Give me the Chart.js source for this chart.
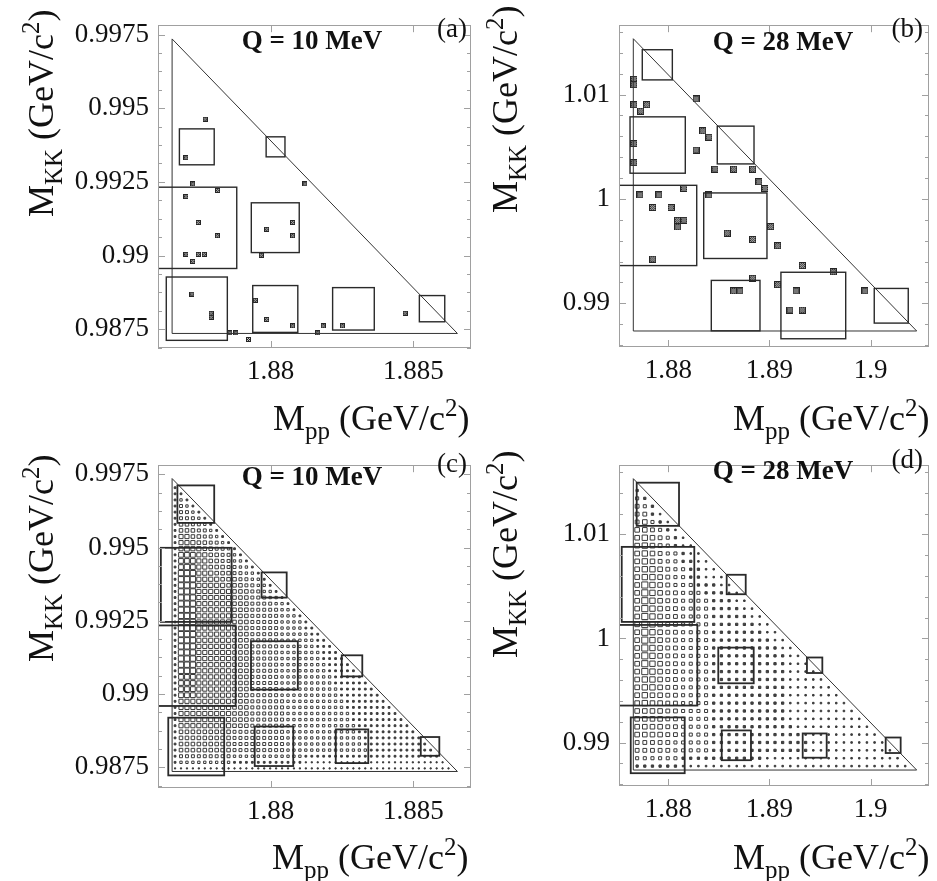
<!DOCTYPE html>
<html>
<head>
<meta charset="utf-8">
<script src="https://cdn.jsdelivr.net/npm/chart.js@4.4.0/dist/chart.umd.min.js"></script>
<style>
  body { margin: 0; background: #fff; }
  #wrap { position: relative; width: 937px; height: 881px; overflow: hidden; }
  canvas { position: absolute; }
</style>
</head>
<body>
<div id="wrap">
  <canvas id="pa" width="480" height="450" style="left:0;top:0"></canvas>
  <canvas id="pb" width="457" height="450" style="left:480px;top:0"></canvas>
  <canvas id="pc" width="480" height="441" style="left:0;top:440px"></canvas>
  <canvas id="pd" width="457" height="441" style="left:480px;top:440px"></canvas>
</div>
<script>
// ---- data ----

// Dalitz boundaries (M_pp, M_KK) for Q = 10 and 28 MeV
const triX10 = [1.876544, 1.876544, 1.886544, 1.876544];
const triY10 = [0.987354, 0.997354, 0.987354, 0.987354];
const triX28 = [1.876544, 1.876544, 1.904544, 1.876544];
const triY28 = [0.987354, 1.015354, 0.987354, 0.987354];

// tick labels
const xTicks10 = [1.88, 1.885];
const yTicks10 = [0.9875, 0.99, 0.9925, 0.995, 0.9975];
const xTicks28 = [1.88, 1.89, 1.9];
const yTicks28 = [0.99, 1, 1.01];

// events, panel (a)
const evXa = [1.87770, 1.87703, 1.87727, 1.87814, 1.87703, 1.88120, 1.87746, 1.87813, 1.87703, 1.87746,
              1.87767, 1.87727, 1.87986, 1.88077, 1.88077, 1.87967, 1.87724, 1.87791, 1.87857, 1.87878,
              1.87922, 1.87946, 1.87986, 1.88077, 1.88165, 1.88184, 1.88251, 1.88471, 1.87791];
const evYa = [0.99463, 0.99332, 0.99243, 0.99221, 0.99200, 0.99243, 0.99112, 0.99067, 0.99004, 0.99004,
              0.99004, 0.98980, 0.99089, 0.99112, 0.99067, 0.99001, 0.98869, 0.98804, 0.98737, 0.98737,
              0.98715, 0.98848, 0.98783, 0.98761, 0.98737, 0.98761, 0.98761, 0.98804, 0.98790];

// events, panel (b)
const evXb = [1.87661, 1.87661, 1.87661, 1.87787, 1.87727, 1.88274, 1.88340, 1.88402, 1.88274, 1.87661,
              1.87661, 1.88461, 1.88646, 1.88834, 1.88896, 1.88955, 1.88155, 1.87720, 1.87908, 1.87846,
              1.88027, 1.88093, 1.88155, 1.88093, 1.88402, 1.89012, 1.88583, 1.88834, 1.89081, 1.87846,
              1.89324, 1.89630, 1.88834, 1.89081, 1.88646, 1.88708, 1.89262, 1.89943, 1.89202, 1.89324];
const evYb = [1.01146, 1.01095, 1.00903, 1.00903, 1.00842, 1.00958, 1.00652, 1.00592, 1.00469, 1.00531,
              1.00348, 1.00286, 1.00286, 1.00286, 1.00165, 1.00101, 1.00101, 1.00039, 1.00039, 0.99918,
              0.99918, 0.99796, 0.99796, 0.99732, 1.00039, 0.99735, 0.99673, 0.99613, 0.99552, 0.99424,
              0.99362, 0.99302, 0.99241, 0.99179, 0.99119, 0.99119, 0.99119, 0.99119, 0.98936, 0.98936];

// big boxes [xLow, xHigh, yLow, yHigh]
const boxesA = [
  [1.87680, 1.87802, 0.99308, 0.99430], [1.87984, 1.88050, 0.99335, 0.99403],
  [1.87605, 1.87881, 0.98956, 0.99232], [1.87932, 1.88100, 0.99010, 0.99179],
  [1.87634, 1.87848, 0.98712, 0.98927], [1.87937, 1.88095, 0.98739, 0.98898],
  [1.88217, 1.88363, 0.98747, 0.98891], [1.88521, 1.88610, 0.98775, 0.98864]
];
const boxesB = [
  [1.87743, 1.88040, 1.01141, 1.01430], [1.87622, 1.88168, 1.00247, 1.00787],
  [1.88484, 1.88847, 1.00336, 1.00698], [1.87513, 1.88281, 0.99362, 1.00131],
  [1.88350, 1.88975, 0.99430, 1.00058], [1.88425, 1.88906, 0.98737, 0.99220],
  [1.89113, 1.89753, 0.98661, 0.99298], [1.90035, 1.90371, 0.98811, 0.99143]
];
const boxesC = [
  [1.87673, 1.87802, 0.99584, 0.99712], [1.87615, 1.87863, 0.99246, 0.99499],
  [1.87968, 1.88056, 0.99329, 0.99415], [1.87603, 1.87877, 0.98959, 0.99234],
  [1.87931, 1.88095, 0.99015, 0.99180], [1.88249, 1.88321, 0.99060, 0.99132],
  [1.87641, 1.87837, 0.98722, 0.98919], [1.87944, 1.88079, 0.98754, 0.98889],
  [1.88228, 1.88342, 0.98764, 0.98879], [1.88526, 1.88591, 0.98789, 0.98853]
];
const boxesD = [
  [1.87688, 1.88106, 1.01082, 1.01497], [1.87540, 1.88257, 1.00159, 1.00880],
  [1.88577, 1.88765, 1.00425, 1.00612], [1.87513, 1.88287, 0.99355, 1.00130],
  [1.88494, 1.88844, 0.99569, 0.99912], [1.89370, 1.89522, 0.99668, 0.99817],
  [1.87629, 1.88162, 0.98705, 0.99241], [1.88528, 1.88817, 0.98830, 0.99116],
  [1.89328, 1.89565, 0.98854, 0.99087], [1.90148, 1.90296, 0.98899, 0.99048]
];

// box-histogram cells, one string per row (top row first), "value*count" runs
const binC = 0.000208333;   // Q = 10 MeV, 48 bins
const rowsC = [
  "3", "3 3", "3 4 3", "3 5 4 3", "3 5 5 4 3", "3 5 5 5 4 3", "3 6 6 5 5 4 3",
  "3 6 6 6 5 5 4 3", "3 7 7 6 6 5 5 4 3", "3 7 7 7 6 6 5 5 4 3", "3 7 8 7 7 6 6 5 5 4 3",
  "3 8 8 8 7 7 6 6 5 5 4 3", "3 8 8 8 7 7 6 6 5 5 4 4 3", "3 8 9 8 7*2 6*3 5*2 4*2 3",
  "3 9*3 7*3 6*3 5*2 4*2 3", "3 9*3 7*4 6*3 5*2 4*2 3", "3 9*3 7*5 6*3 5*2 4*2 3",
  "3 9*3 7*6 6*3 5*2 4*2 3", "3 9*3 7*6 6*3 5*3 4*2 3", "3 9*3 7*6 6*3 5*4 4*2 3",
  "3 9*3 7*6 6*3 5*5 4*2 3", "3 9*3 7*6 6*3 5*5 4*3 3", "3 9*3 7*6 6*3 5*5 4*4 3",
  "3 9*3 7*6 6*3 5*5 4*4 3*2", "3 9*3 7*6 6*3 5*5 4*5 3*2", "3 9*3 7*6 6*3 5*5 4*6 3*2",
  "3 9*3 7*6 6*3 5*5 4*6 3*3", "3 9*3 7*6 6*3 5*5 4*7 3*3", "3 9*3 7*6 6*3 5*5 4*7 3*4",
  "3 9*3 7*6 6*3 5*5 4*8 3*4", "3 9*3 7*6 6*3 5*5 4*8 3*5", "3 8*3 7*6 6*3 5*5 4*9 3*5",
  "3 8*3 7*6 6*3 5*5 4*9 3*6", "3 8*3 7*6 6*3 5*5 4*10 3*6", "3 8*3 7*6 6*3 5*5 4*10 3*7",
  "3 7*9 6*3 5*6 4*10 3*7", "3 7*9 6*3 5*6 4*10 3*8", "3 7*9 6*3 5*6 4*11 3*8",
  "3 7*9 6*3 5*6 4*11 3*9", "3 7*9 6*3 5*6 4*12 3*9", "3 6*9 5*9 4*12 3*10",
  "3 6*9 5*9 4*13 3*10", "3 6*9 5*9 4*13 3*11", "3 6*9 5*9 4*14 3*11",
  "3 5*9 4*12 3*23", "3 4*9 3*12 2*24", "2*47"
];
const binD = 0.000756757;   // Q = 28 MeV, 37 bins
const rowsD = [
  "3", "4 3", "5 4 3", "5 5 3 2", "5 6 4 3 2", "6 6 5 4 3 2", "6 7 6 5 4 3 2",
  "6 7 6 5 4 3 2*2", "6 7 6 5 4*2 3 2*2", "6 7 6 5 4*2 3*2 2*2", "6 7*2 6 5 4*2 3*2 2*2",
  "6 7*2 6 5 4*2 3*2 2*3", "6 8 7 6 5 4*3 3*3 2*2", "6 8 7 6 5*2 4*3 3*3 2*2",
  "6 8 7 6 5*2 4*4 3*3 2*2", "6 8 7 6 5*2 4*4 3*4 2*2", "6 8 7 6 5*2 4*4 3*5 2*2",
  "6 8 7 6 5*2 4*4 3*6 2*2", "6 8 7 6 5*2 4*4 3*7 2*2", "6 8 7 6 5*2 4*4 3*8 2*2",
  "6 8 7 6 5*2 4*4 3*9 2*2", "6 8 7 6 5*2 4*4 3*10 2*2", "6 8 7 6 5*2 4*4 3*10 2*3",
  "6 8 7 6 5*2 4*4 3*10 2*4", "6 7 7 6 5*2 4*4 3*10 2*5", "6 7 7 6 5*2 4*4 3*10 2*6",
  "6 7 6 6 5*2 4*4 3*10 2*7", "6 7 6 6 5*2 4*4 3*10 2*8", "6*4 5*2 4*4 3*10 2*9",
  "6*4 5*2 4*4 3*10 2*10", "6*4 5*2 4*4 3*11 2*10", "6*4 5*2 4*4 3*12 2*10",
  "5*5 4*5 3*13 2*10", "5*5 4*5 3*13 2*11", "4*6 3*11 2*18", "3*6 2*30"
];

// ---- drawing ----
Chart.defaults.font.family = '"Liberation Serif", "Times New Roman", serif';
Chart.defaults.color = '#111';

const SERIF = '"Liberation Serif", "Times New Roman", serif';

function decodeRow(s) {
  const out = [];
  s.trim().split(/\s+/).forEach(t => {
    const [v, n] = t.split('*');
    for (let i = 0; i < (n ? +n : 1); i++) out.push(+v);
  });
  return out;
}

function gridPoints(rows, bin) {
  const pts = [];
  const n = rows.length;
  rows.forEach((r, idx) => {
    const k = n - 1 - idx;
    decodeRow(r).forEach((v, j) => {
      pts.push({ x: triX10[0] + (j + 0.5) * bin, y: triY10[0] + (k + 0.5) * bin, v: v });
    });
  });
  return pts;
}

function markImage(n) {
  const c = document.createElement('canvas');
  c.width = n; c.height = n;
  const g = c.getContext('2d');
  g.fillStyle = '#262626';
  g.fillRect(0, 0, n, n);
  g.fillStyle = '#c8c8c8';
  for (let i = 1; i < n - 1; i++)
    for (let j = 1; j < n - 1; j++)
      if ((i + j) % 2 === 0) g.fillRect(i, j, 1, 1);
  return c;
}

function boxPlugin(list, width) {
  return {
    id: 'boxes',
    afterDatasetsDraw(chart) {
      const { ctx, chartArea: a, scales: { x, y } } = chart;
      ctx.save();
      ctx.beginPath();
      ctx.rect(a.left, a.top, a.width, a.height);
      ctx.clip();
      ctx.strokeStyle = '#2a2a2a';
      ctx.lineWidth = width;
      list.forEach(b => {
        const x1 = x.getPixelForValue(b[0]), x2 = x.getPixelForValue(b[1]);
        const y1 = y.getPixelForValue(b[2]), y2 = y.getPixelForValue(b[3]);
        ctx.strokeRect(x1, y2, x2 - x1, y1 - y2);
      });
      ctx.restore();
    }
  };
}

function frameTicks(xMajor, yMajor, yStep, perMajor) {
  return {
    id: 'frameTicks',
    afterDraw(chart) {
      const { ctx, chartArea: a, scales: { x, y } } = chart;
      ctx.save();
      ctx.strokeStyle = '#a0a0a0';
      ctx.lineWidth = 1;
      ctx.strokeRect(Math.round(a.left) + 0.5, Math.round(a.top) + 0.5,
                     Math.round(a.width) - 1, Math.round(a.height) - 1);
      ctx.beginPath();
      xMajor.forEach(v => {
        const p = Math.round(x.getPixelForValue(v)) + 0.5;
        ctx.moveTo(p, a.bottom); ctx.lineTo(p, a.bottom - 7);
        ctx.moveTo(p, a.top); ctx.lineTo(p, a.top + 7);
      });
      for (let i = -30; i < 60; i++) {
        const v = yMajor[0] + i * yStep;
        if (v < y.min || v > y.max) continue;
        const len = (i % perMajor === 0) ? 7 : 4;
        const p = Math.round(y.getPixelForValue(v)) + 0.5;
        ctx.moveTo(a.left, p); ctx.lineTo(a.left + len, p);
        ctx.moveTo(a.right, p); ctx.lineTo(a.right - len, p);
      }
      ctx.stroke();
      ctx.restore();
    }
  };
}

function axisTitle(ctx, x, y, sub, rotate) {
  const f = 36;
  ctx.save();
  ctx.translate(x, y);
  if (rotate) ctx.rotate(-Math.PI / 2);
  ctx.fillStyle = '#111';
  ctx.textAlign = 'left';
  ctx.textBaseline = 'alphabetic';
  let cx = 0;
  const part = (txt, size, dy) => {
    ctx.font = size + 'px ' + SERIF;
    ctx.fillText(txt, cx, dy);
    cx += ctx.measureText(txt).width;
  };
  part('M', f, 0);
  part(sub, Math.round(f * 0.7), f * 0.24);
  part(' (GeV/c', f, 0);
  part('2', Math.round(f * 0.7), -f * 0.4);
  part(')', f, 0);
  ctx.restore();
}

function textPlugin(t) {
  return {
    id: 'panelText',
    afterDraw(chart) {
      const ctx = chart.ctx;
      ctx.save();
      ctx.fillStyle = '#111';
      ctx.textBaseline = 'middle';
      ctx.textAlign = 'center';
      ctx.font = 'bold 27px ' + SERIF;
      ctx.fillText(t.q, t.qx, t.qy);
      ctx.textAlign = 'right';
      ctx.font = '27px ' + SERIF;
      ctx.fillText(t.letter, t.lx, t.ly);
      ctx.restore();
      axisTitle(ctx, t.xtx, t.xty, 'pp', false);
      axisTitle(ctx, t.ytx, t.yty, 'KK', true);
    }
  };
}

function makePanel(id, p) {
  const datasets = [{
    data: p.triX.map((v, i) => ({ x: v, y: p.triY[i] })),
    showLine: true, borderColor: '#333', borderWidth: 1, pointRadius: 0, fill: false
  }];
  if (p.evX) {
    datasets.push({
      data: p.evX.map((v, i) => ({ x: v, y: p.evY[i] })),
      pointStyle: markImage(p.markSize), pointRadius: 3
    });
  }
  if (p.rows) {
    datasets.push({
      data: gridPoints(p.rows, p.bin),
      pointStyle: 'rect',
      borderWidth: 1,
      borderColor: '#3a3a3a',
      backgroundColor: c => (c.raw && c.raw.v <= 3) ? '#444' : 'rgba(0,0,0,0)',
      pointRadius: c => {
        if (!c.raw) return 0;
        const sx = c.chart.scales.x;
        const px = Math.abs(sx.getPixelForValue(c.raw.x + p.bin) - sx.getPixelForValue(c.raw.x));
        return c.raw.v / 10 * px / Math.SQRT2;
      }
    });
  }
  new Chart(document.getElementById(id), {
    type: 'scatter',
    data: { datasets },
    options: {
      responsive: false,
      animation: false,
      events: [],
      layout: { padding: p.pad },
      plugins: { legend: { display: false }, tooltip: { enabled: false } },
      scales: {
        x: {
          type: 'linear', min: p.xMin, max: p.xMax,
          afterFit: s => { s.height = p.xH; },
          afterBuildTicks: s => { s.ticks = p.xTicks.map(v => ({ value: v })); },
          ticks: { font: { size: 27 }, color: '#111', padding: 8, maxRotation: 0, autoSkip: false,
                   callback: v => String(v) },
          grid: { display: false, drawTicks: false },
          border: { display: false }
        },
        y: {
          type: 'linear', min: p.yMin, max: p.yMax,
          afterFit: s => { s.width = p.yW; },
          afterBuildTicks: s => { s.ticks = p.yTicks.map(v => ({ value: v })); },
          ticks: { font: { size: 27 }, color: '#111', padding: 9, autoSkip: false,
                   callback: v => String(v) },
          grid: { display: false, drawTicks: false },
          border: { display: false }
        }
      }
    },
    plugins: [boxPlugin(p.boxes, p.boxW), frameTicks(p.xTicks, p.yTicks, p.yStep, p.perMajor), textPlugin(p.text)]
  });
}

makePanel('pa', {
  triX: triX10, triY: triY10, evX: evXa, evY: evYa, markSize: 5, boxes: boxesA, boxW: 1.4,
  xMin: 1.87605, xMax: 1.88702, yMin: 0.98686, yMax: 0.99782,
  xTicks: xTicks10, yTicks: yTicks10, yStep: 0.000625, perMajor: 4,
  pad: { top: 11, right: 9, left: 0, bottom: 0 }, xH: 102, yW: 158,
  text: { q: 'Q = 10 MeV', qx: 312, qy: 42, letter: '(a)', lx: 467, ly: 30,
          xtx: 273, xty: 430, ytx: 53, yty: 217 }
});
makePanel('pb', {
  triX: triX28, triY: triY28, evX: evXb, evY: evYb, markSize: 7, boxes: boxesB, boxW: 1.4,
  xMin: 1.87513, xMax: 1.90576, yMin: 0.98582, yMax: 1.01665,
  xTicks: xTicks28, yTicks: yTicks28, yStep: 0.002, perMajor: 5,
  pad: { top: 10, right: 8, left: 0, bottom: 0 }, xH: 103, yW: 139,
  text: { q: 'Q = 28 MeV', qx: 303, qy: 43, letter: '(b)', lx: 443, ly: 30,
          xtx: 253, xty: 430, ytx: 37, yty: 213 }
});
makePanel('pc', {
  triX: triX10, triY: triY10, rows: rowsC, bin: binC, boxes: boxesC, boxW: 1.8,
  xMin: 1.87605, xMax: 1.88702, yMin: 0.98679, yMax: 0.99781,
  xTicks: xTicks10, yTicks: yTicks10, yStep: 0.000625, perMajor: 4,
  pad: { top: 4, right: 9, left: 0, bottom: 0 }, xH: 93, yW: 158,
  text: { q: 'Q = 10 MeV', qx: 312, qy: 38, letter: '(c)', lx: 467, ly: 25,
          xtx: 272, xty: 429, ytx: 53, yty: 222 }
});
makePanel('pd', {
  triX: triX28, triY: triY28, rows: rowsD, bin: binD, boxes: boxesD, boxW: 1.8,
  xMin: 1.87513, xMax: 1.90576, yMin: 0.98582, yMax: 1.01665,
  xTicks: xTicks28, yTicks: yTicks28, yStep: 0.002, perMajor: 5,
  pad: { top: 1, right: 8, left: 0, bottom: 0 }, xH: 95, yW: 139,
  text: { q: 'Q = 28 MeV', qx: 303, qy: 32, letter: '(d)', lx: 443, ly: 21,
          xtx: 253, xty: 429, ytx: 37, yty: 218 }
});
</script>
</body>
</html>
